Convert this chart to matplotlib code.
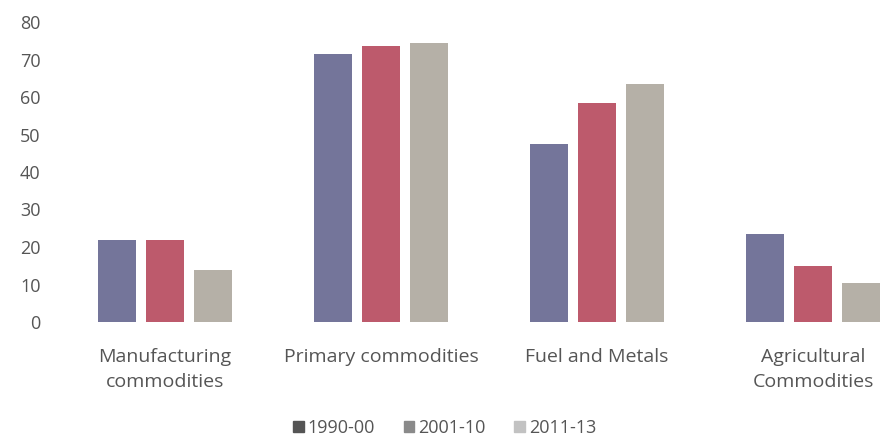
import matplotlib.pyplot as plt
import matplotlib.patches as mpatches
import numpy as np

# data
categories = ['Manufacturing\ncommodities', 'Primary commodities',
              'Fuel and Metals', 'Agricultural\nCommodities']
periods = ['1990-00', '2001-10', '2011-13']
v_1990 = [22, 71.5, 47.5, 23.5]
v_2001 = [22, 73.5, 58.5, 15]
v_2011 = [14, 74.5, 63.5, 10.5]

colors = ['#74759a', '#bd5a6c', '#b5b0a7']
legend_colors = ['#555555', '#8a8a8a', '#c2c2c2']
text_color = '#555555'

plt.rcParams['font.family'] = ['Open Sans', 'DejaVu Sans']

fig = plt.figure(figsize=(8.89, 4.45), dpi=100)
ax = fig.add_axes([60 / 889, 123 / 445, 829 / 889, 300 / 445])

x = np.arange(len(categories))
step = 0.222
width = 0.176
for i, (vals, c) in enumerate(zip([v_1990, v_2001, v_2011], colors)):
    ax.bar(x + (i - 1) * step, vals, width, color=c)

ax.set_xlim(-0.486, 3.352)
ax.set_ylim(0, 80)
ax.set_yticks(range(0, 81, 10))
ax.set_xticks(x)
ax.set_xticklabels(categories, fontsize=14, color=text_color, linespacing=1.5)
ax.tick_params(axis='y', labelsize=13, labelcolor=text_color, length=0, pad=14)
ax.tick_params(axis='x', length=0, pad=19)
for s in ax.spines.values():
    s.set_visible(False)

handles = [mpatches.Patch(color=c, label=p) for c, p in zip(legend_colors, periods)]
fig.legend(handles=handles, loc='center', bbox_to_anchor=(0.5, 1 - 428 / 445),
           ncol=3, frameon=False, fontsize=13, labelcolor=text_color,
           handlelength=0.6, handleheight=0.6, handletextpad=0.2, columnspacing=1.6)

fig.savefig('out.png', dpi=100)
